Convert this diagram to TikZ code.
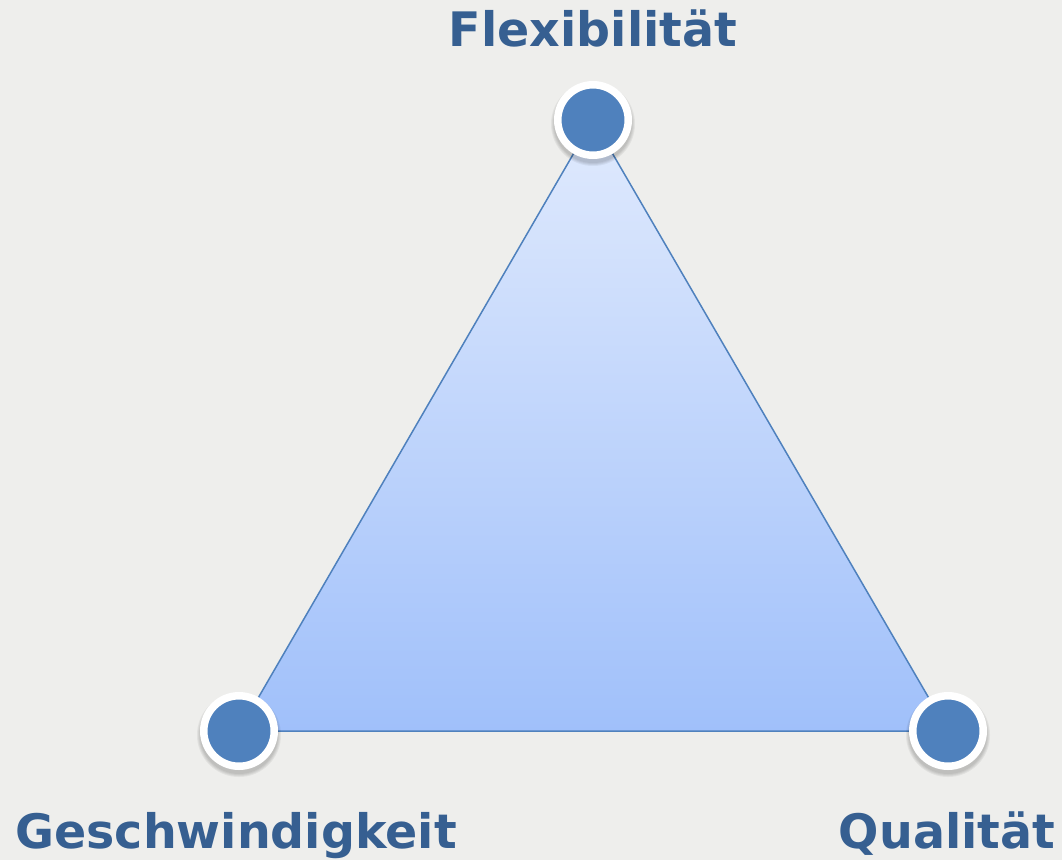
\documentclass[tikz,border=0pt]{standalone}
\usepackage{fontspec}
\setmainfont{DejaVu Sans}
\definecolor{bg}{HTML}{EEEEEC}
\definecolor{txt}{HTML}{365F91}
\definecolor{dot}{HTML}{4F81BD}
\definecolor{gtop}{HTML}{E0EAFD}
\definecolor{gbot}{HTML}{A0C0FA}
\begin{document}
\begin{tikzpicture}[x=1pt,y=-1pt,
  label/.style={font=\bfseries\fontsize{47.5}{52}\selectfont, text=txt, inner sep=0pt, anchor=base},
  vertex/.style={circle, draw=white, line width=7.5pt, fill=dot, minimum size=70.5pt, inner sep=0pt},
  vshadow/.style={circle, fill=black, opacity=0.05, inner sep=0pt}
]
\fill[bg] (0,0) rectangle (1062,860);
\useasboundingbox (0,0) rectangle (1062,860);
\coordinate (F) at (593,120);
\coordinate (G) at (239,731);
\coordinate (Q) at (948,731);
\shade[top color=gtop, bottom color=gbot] (F) -- (G) -- (Q) -- cycle;
\draw[dot, line width=1.5pt, line join=round] (F) -- (G) -- (Q) -- cycle;
\foreach \c in {F,G,Q}{
  \foreach \s in {84,82,80,78}{
    \node[vshadow, minimum size=\s pt] at ([yshift=-4pt]\c) {};
  }
}
\node[vertex] (nF) at (F) {};
\node[vertex] (nG) at (G) {};
\node[vertex] (nQ) at (Q) {};
\node[label] (lF) at (593,46) {Flexibilität};
\node[label] (lG) at (236,848) {Geschwindigkeit};
\node[label] (lQ) at (947,848) {Qualität};
\end{tikzpicture}
\end{document}
